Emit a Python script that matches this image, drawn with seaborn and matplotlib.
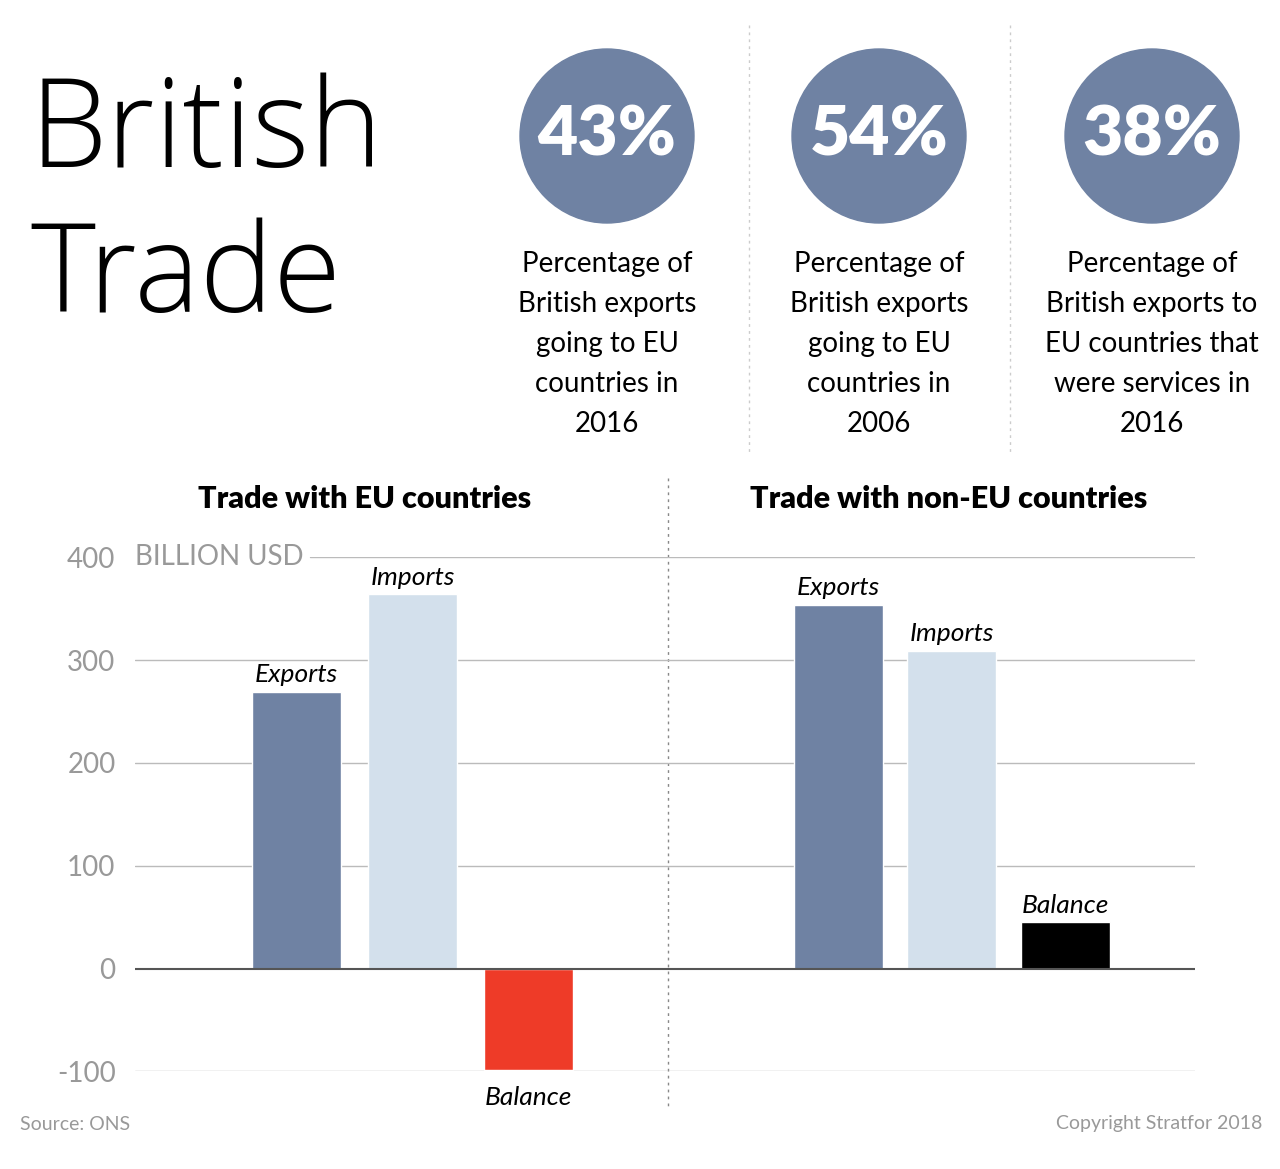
import matplotlib
matplotlib.use("Agg")
import matplotlib.pyplot as plt
from matplotlib.patches import Circle
import seaborn as sns
import pandas as pd

# ---------------- data ----------------
measures = ["Exports", "Imports", "Balance"]
eu_values = [269, 364, -99]
noneu_values = [354, 309, 45]
group_titles = ["Trade with EU countries", "Trade with non-EU countries"]
y_ticks = [-100, 0, 100, 200, 300, 400]
y_tick_labels = ["-100", "0", "100", "200", "300", "400"]
unit_label = "BILLION USD"

stat_values = ["43%", "54%", "38%"]
stat_texts = [
    "Percentage of\nBritish exports\ngoing to EU\ncountries in\n2016",
    "Percentage of\nBritish exports\ngoing to EU\ncountries in\n2006",
    "Percentage of\nBritish exports to\nEU countries that\nwere services in\n2016",
]
title_lines = ["British", "Trade"]
source = "Source: ONS"
copyright_txt = "Copyright Stratfor 2018"

# ---------------- styles ----------------
C_EXP = "#6F82A3"
C_IMP = "#D3E0EC"
C_BAL_NEG = "#EE3B28"
C_BAL_POS = "#000000"
GRID = "#BBBBBB"
TXT_GRAY = "#999999"

sns.set_theme(style="white")
plt.rcParams["font.family"] = ["Lato", "DejaVu Sans"]
TITLE_FONT = ["Open Sans", "Lato", "DejaVu Sans"]

W, H = 1280, 1169
fig = plt.figure(figsize=(W / 100, H / 100), dpi=100)
fig.patch.set_facecolor("white")

# background overlay in pixel coordinates
bg = fig.add_axes([0, 0, 1, 1])
bg.set_xlim(0, W)
bg.set_ylim(H, 0)
bg.axis("off")

# title
for i, line in enumerate(title_lines):
    bg.text(30, 167 + 145 * i, line, fontsize=89, fontweight="light", family=TITLE_FONT,
            va="baseline", ha="left", color="black")

# stat circles
centers = [607, 879, 1152]
for cx, val, txt in zip(centers, stat_values, stat_texts):
    bg.add_patch(Circle((cx, 136), 87, color=C_EXP, zorder=2))
    bg.text(cx, 136, val, fontsize=50, fontweight="heavy", color="white",
            ha="center", va="center", zorder=3)
    for i, line in enumerate(txt.split("\n")):
        bg.text(cx, 264 + 40 * i, line, fontsize=20, fontweight="normal",
                ha="center", va="center", color="black")

# dotted separators
for x in [749, 1010]:
    bg.plot([x, x], [25, 455], color="#CCCCCC", lw=1, ls=(0, (2, 3)))
bg.plot([668, 668], [478, 1108], color="#888888", lw=1, ls=(0, (2, 3)))

# group titles
bg.text(365, 499, group_titles[0], fontsize=22, fontweight="heavy", ha="center", va="center", color="black")
bg.text(949, 499, group_titles[1], fontsize=22, fontweight="heavy", ha="center", va="center", color="black")

# footer
bg.text(20, 1124, source, fontsize=14, color=TXT_GRAY, ha="left", va="center")
bg.text(1262, 1124, copyright_txt, fontsize=14, color=TXT_GRAY, ha="right", va="center")

# ---------------- bar axes ----------------
y_top_px, y_bot_px = 557.3, 1071.3
ax_bottom = 1 - y_bot_px / H
ax_height = (y_bot_px - y_top_px) / H

specs = [
    (135, 668, eu_values, (-1.392, 3.203), 0.767, C_BAL_NEG),
    (668, 1195, noneu_values, (-1.502, 3.141), 0.784, C_BAL_POS),
]

for gi, (x0, x1, vals, xlim, bw, bal_color) in enumerate(specs):
    ax = fig.add_axes([x0 / W, ax_bottom, (x1 - x0) / W, ax_height])
    ax.set_facecolor("none")
    df = pd.DataFrame({"measure": measures, "value": vals})
    palette = {"Exports": C_EXP, "Imports": C_IMP, "Balance": bal_color}
    sns.barplot(data=df, x="measure", y="value", hue="measure", palette=palette,
                order=measures, hue_order=measures, width=bw, ax=ax,
                legend=False, saturation=1, zorder=3)
    ax.set_xlim(*xlim)
    ax.set_ylim(-100, 400)
    ax.set_xlabel("")
    ax.set_ylabel("")
    ax.set_xticks([])
    for s in ax.spines.values():
        s.set_visible(False)

    # gridlines
    for t in y_ticks:
        if t == 0:
            ax.axhline(0, color="#555555", lw=1.5, zorder=4)
        elif t == 400 and gi == 0:
            ax.axhline(t, xmin=(310 - x0) / (x1 - x0), color=GRID, lw=1, zorder=1)
        else:
            ax.axhline(t, color=GRID, lw=1, zorder=1)

    if gi == 0:
        ax.set_yticks(y_ticks)
        ax.set_yticklabels(y_tick_labels)
        ax.tick_params(axis="y", length=0, pad=14, labelsize=20, labelcolor=TXT_GRAY)
        ax.text(0, 400, unit_label, transform=ax.get_yaxis_transform(),
                fontsize=20, color=TXT_GRAY, ha="left", va="center")
    else:
        ax.set_yticks([])

    # bar labels
    for i, (m, v) in enumerate(zip(measures, vals)):
        if v >= 0:
            ax.annotate(m, (i, v), xytext=(0, 4), textcoords="offset points",
                        ha="center", va="bottom", fontsize=19, fontstyle="italic",
                        color="black", annotation_clip=False)
        else:
            ax.annotate(m, (i, v), xytext=(0, -11), textcoords="offset points",
                        ha="center", va="top", fontsize=19, fontstyle="italic",
                        color="black", annotation_clip=False)

fig.savefig("out.png", dpi=100, facecolor="white")
